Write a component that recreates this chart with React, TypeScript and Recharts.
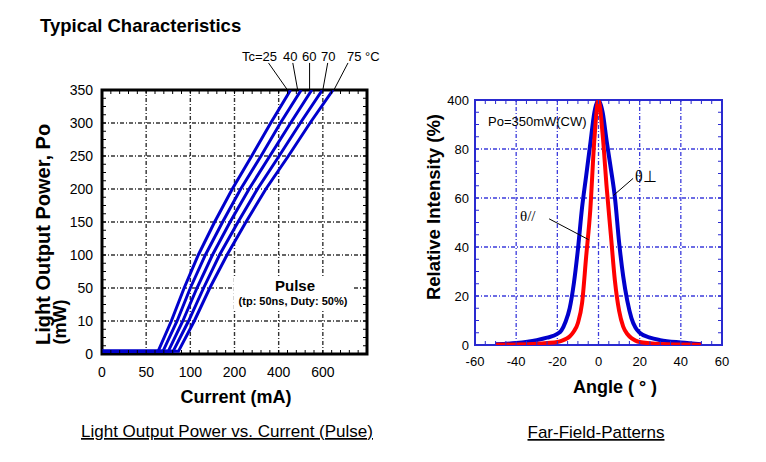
import React from 'react';
import { LineChart, Line, XAxis, YAxis, ReferenceLine, ReferenceArea } from 'recharts';

const FONT = '"Liberation Sans", Arial, Helvetica, sans-serif';
const SERIF = '"Liberation Serif", "Times New Roman", serif';

// Left panel. The printed axis labels are uneven, so values are kept in grid steps
const currentLabels = ['0', '50', '100', '200', '400', '600', ''];
const powerLabels = ['0', '10', '50', '100', '150', '200', '250', '300', '350'];
const powerSteps = [0.08, 0.08, 1, 2, 3, 4, 5, 6, 7, 8];
const currentTc25 = [0, 1.27, 1.57, 1.86, 2.18, 2.55, 2.95, 3.39, 3.82, 4.27];
const currentTc40 = [0, 1.38, 1.7, 2.0, 2.34, 2.73, 3.14, 3.6, 4.04, 4.51];
const currentTc60 = [0, 1.5, 1.83, 2.15, 2.5, 2.9, 3.33, 3.8, 4.27, 4.75];
const currentTc70 = [0, 1.61, 1.96, 2.3, 2.66, 3.08, 3.52, 4.01, 4.49, 4.99];
const currentTc75 = [0, 1.73, 2.09, 2.44, 2.83, 3.26, 3.71, 4.22, 4.71, 5.23];
const tcNames = ['Tc=25', '40', '60', '70', '75 °C'];
const tcLeaderFrom = [3.77, 4.32, 4.7, 5.11, 5.57];
const tcLeaderTo = [4.2, 4.43, 4.7, 5.0, 5.25];

// Right panel
const angles = [-50, -40, -30, -25, -20, -18, -16, -14, -12, -10, -8, -6, -4, -2, 0, 2, 4, 6, 8, 10, 12, 14, 16, 18, 20, 25, 30, 40, 50];
const thetaPerp = [0.3, 0.8, 2, 3, 4.5, 6, 9.5, 15, 25, 39, 56, 69, 82, 95, 100, 95, 83, 72, 60, 42, 28, 18, 11, 7, 5, 3, 2, 1, 0.3];
const thetaPara = [0.1, 0.2, 0.5, 0.8, 1.2, 1.7, 2.4, 3.5, 5.5, 9, 17, 36, 55, 84, 100, 86, 64, 45, 26, 14, 7.5, 4.5, 2.8, 1.8, 1.2, 0.7, 0.4, 0.2, 0.1];
const intensityLabels = ['0', '20', '40', '60', '80', '400'];

const tcSeries = [currentTc25, currentTc40, currentTc60, currentTc70, currentTc75].map((xs) =>
  xs.map((x, k) => ({ i: x, p: powerSteps[k] }))
);
const farField = angles.map((a, k) => ({ angle: a, perp: thetaPerp[k], para: thetaPara[k] }));

const steps = (from: number, to: number, step: number) => {
  const out: number[] = [];
  for (let v = from; v <= to + 1e-9; v += step) out.push(+v.toFixed(4));
  return out;
};
const isWhole = (v: number) => Math.abs(v - Math.round(v)) < 1e-6;

// draws the small inward tick on the axis side and the matching one on the opposite frame side
const tickMark =
  (side: 'bottom' | 'left', span: number, color: string, label: (v: number) => string | null, fontSize: number, gap: number) =>
  (props: any) => {
    const { x, y, payload } = props;
    const len = 4;
    const text = label(payload.value);
    if (side === 'bottom') {
      return (
        <g>
          <line x1={x} y1={y} x2={x} y2={y - len} stroke={color} strokeWidth={1} />
          <line x1={x} y1={y - span} x2={x} y2={y - span + len} stroke={color} strokeWidth={1} />
          {text && (
            <text x={x} y={y + gap} textAnchor="middle" fontSize={fontSize} fontFamily={FONT} fill="#000">{text}</text>
          )}
        </g>
      );
    }
    return (
      <g>
        <line x1={x} y1={y} x2={x + len} y2={y} stroke={color} strokeWidth={1} />
        <line x1={x + span} y1={y} x2={x + span - len} y2={y} stroke={color} strokeWidth={1} />
        {text && (
          <text x={x - gap} y={y + fontSize * 0.36} textAnchor="end" fontSize={fontSize} fontFamily={FONT} fill="#000">{text}</text>
        )}
      </g>
    );
  };

// axes are 1px thick so they still render; ticks are drawn by tickMark right on the frame
const axisBase = { tickSize: 0, tickMargin: 0, tickLine: false, axisLine: false, interval: 0 as const, allowDataOverflow: true };

function LightCurrentChart() {
  const xt = steps(0, 6, 0.2);
  const yt = steps(0, 8, 0.25);
  const grid = { stroke: '#333', strokeWidth: 1.4, strokeDasharray: '4 2 1 2' };
  return (
    <LineChart width={400} height={462} margin={{ top: 90, right: 33, bottom: 107, left: 101 }}>
      <XAxis {...axisBase} type="number" dataKey="i" domain={[0, 6]} ticks={xt} height={1}
        tick={tickMark('bottom', 264, '#000', (v) => (isWhole(v) ? currentLabels[Math.round(v)] : null), 14, 23)} />
      <YAxis {...axisBase} type="number" domain={[0, 8]} ticks={yt} width={1}
        tick={tickMark('left', 265, '#000', (v) => (isWhole(v) ? powerLabels[Math.round(v)] : null), 14, 9)} />
      {[1, 2, 3, 4, 5].map((v) => <ReferenceLine key={'gx' + v} x={v} {...grid} zIndex={-50} />)}
      {[1, 2, 3, 4, 5, 6, 7].map((v) => <ReferenceLine key={'gy' + v} y={v} {...grid} zIndex={-50} />)}
      {tcSeries.map((d, k) => (
        <Line key={tcNames[k]} data={d} dataKey="p" type="linear" stroke="#0000cc" strokeWidth={3} dot={false} isAnimationActive={false} />
      ))}
      <ReferenceArea x1={0} x2={6} y1={0} y2={8} fill="none" fillOpacity={0} stroke="#000" strokeWidth={3} ifOverflow="visible" />
      {tcNames.map((n, k) => (
        <ReferenceLine key={'ld' + n} segment={[{ x: tcLeaderFrom[k], y: 8.82 }, { x: tcLeaderTo[k], y: 8.0 }]} stroke="#000" strokeWidth={1} ifOverflow="visible" />
      ))}
    </LineChart>
  );
}

function FarFieldChart() {
  const xt = steps(-60, 60, 5);
  const yt = steps(0, 100, 5);
  const grid = { stroke: '#3c3cdc', strokeWidth: 1.3, strokeDasharray: '4 2 1 2' };
  return (
    <LineChart width={366} height={462} data={farField} margin={{ top: 100, right: 44, bottom: 116, left: 74 }}>
      <XAxis {...axisBase} type="number" dataKey="angle" domain={[-60, 60]} ticks={xt} height={1}
        tick={tickMark('bottom', 245, '#2a2ad0', (v) => (v % 20 === 0 ? String(v) : null), 13, 21)} />
      <YAxis {...axisBase} type="number" domain={[0, 100]} ticks={yt} width={1}
        tick={tickMark('left', 247, '#2a2ad0', (v) => (v % 20 === 0 ? intensityLabels[v / 20] : null), 13, 6)} />
      {[-40, -20, 0, 20, 40].map((v) => <ReferenceLine key={'gx' + v} x={v} {...grid} zIndex={-50} />)}
      {[20, 40, 60, 80].map((v) => <ReferenceLine key={'gy' + v} y={v} {...grid} zIndex={-50} />)}
      <Line dataKey="perp" type="monotone" stroke="#0000cc" strokeWidth={4} dot={false} isAnimationActive={false} />
      <Line dataKey="para" type="monotone" stroke="#ff0000" strokeWidth={4} dot={false} isAnimationActive={false} />
      <ReferenceArea x1={-60} x2={60} y1={0} y2={100} fill="none" fillOpacity={0} stroke="#2a2ad0" strokeWidth={2} ifOverflow="visible" />
      <ReferenceLine segment={[{ x: 16.8, y: 68 }, { x: 7.2, y: 61 }]} stroke="#000" strokeWidth={1} ifOverflow="visible" />
      <ReferenceLine segment={[{ x: -24, y: 51.5 }, { x: -4.8, y: 43 }]} stroke="#000" strokeWidth={1} ifOverflow="visible" />
    </LineChart>
  );
}

export default function App() {
  const tcX = [242, 283, 302, 321, 347];
  return (
    <div style={{ position: 'absolute', left: 0, top: 0, width: 766, height: 462, background: '#fff', overflow: 'hidden' }}>
      <div style={{ position: 'absolute', left: 0, top: 0 }}>
        <LightCurrentChart />
      </div>
      <div style={{ position: 'absolute', left: 400, top: 0 }}>
        <FarFieldChart />
      </div>
      <svg width={766} height={462} style={{ position: 'absolute', left: 0, top: 0, pointerEvents: 'none' }} fontFamily={FONT}>
        <text x={40} y={32} fontSize={18.5} fontWeight="bold">Typical Characteristics</text>
        {tcNames.map((n, k) => (
          <text key={n} x={tcX[k]} y={61} fontSize={13}>{n}</text>
        ))}
        <rect x={234} y={277} width={120} height={32} fill="#fff" />
        <text x={295} y={291} fontSize={15} fontWeight="bold" textAnchor="middle">Pulse</text>
        <text x={293} y={305} fontSize={11} fontWeight="bold" textAnchor="middle">(tp: 50ns, Duty: 50%)</text>
        <text x={50} y={345} fontSize={20} fontWeight="bold" transform="rotate(-90 50 345)">Light Output Power, Po</text>
        <text x={66} y={322} fontSize={18} fontWeight="bold" textAnchor="middle" transform="rotate(-90 66 322)">(mW)</text>
        <text x={236} y={403} fontSize={18} fontWeight="bold" textAnchor="middle">Current (mA)</text>
        <text x={227} y={437} fontSize={17} textAnchor="middle" textDecoration="underline">Light Output Power vs. Current (Pulse)</text>

        <text x={440} y={207} fontSize={18.5} fontWeight="bold" textAnchor="middle" transform="rotate(-90 440 207)">Relative Intensity (%)</text>
        <text x={615} y={393} fontSize={18} fontWeight="bold" textAnchor="middle">Angle ( ° )</text>
        <text x={596} y={438} fontSize={17} textAnchor="middle" textDecoration="underline">Far-Field-Patterns</text>
        <text x={488} y={126} fontSize={13}>Po=350mW(CW)</text>
        <text x={635} y={182} fontSize={16} fontFamily={SERIF}>θ⊥</text>
        <text x={520} y={221} fontSize={15} fontFamily={SERIF}>θ//</text>
      </svg>
    </div>
  );
}
